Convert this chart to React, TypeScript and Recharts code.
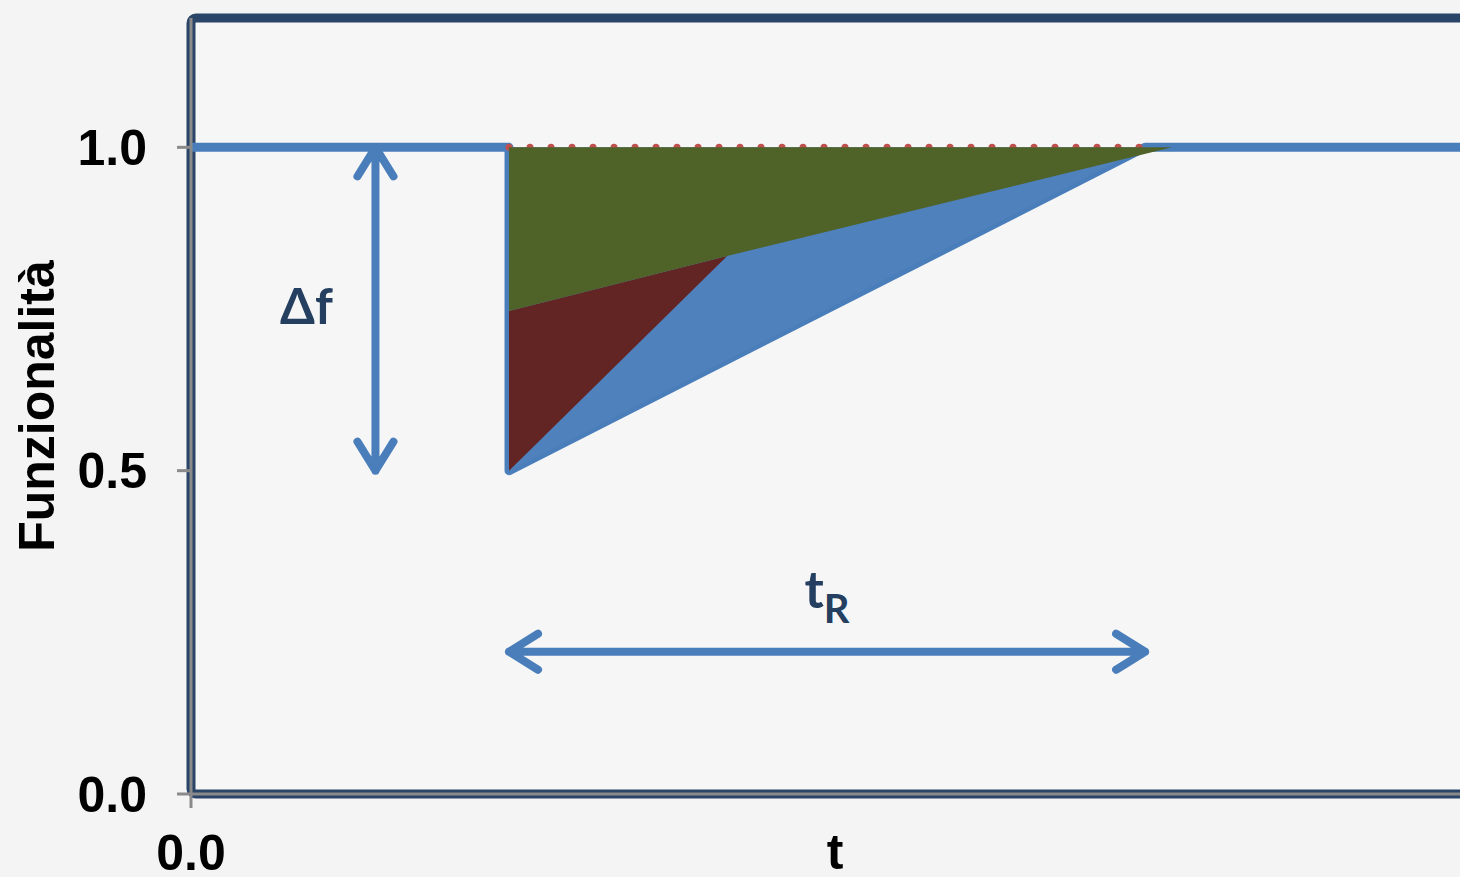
import React from "react";
import {
  Area,
  ComposedChart,
  Label,
  Line,
  ReferenceArea,
  ReferenceLine,
  XAxis,
  YAxis,
} from "recharts";

/** colours (Office 2007 palette) */
const COLORS = {
  line: "#4a7ebb",
  blue: "#4f81bd",
  red: "#632523",
  green: "#4f6228",
  dots: "#c0504d",
  frame: "#2b4568",
  axis: "#8a8a8a",
  note: "#243f60",
  page: "#f4f4f4",
  plot: "#f6f6f6",
} as const;

// time points (x) and values
const T = [0, 1, 1, 1.686, 3.0, 3.085, 4.05];
const BASE = [1, 1, 0.5, null, 1, null, 1];
const BLUE_LOW = [null, null, 0.5, null, 1, null, null];
const BLUE_HIGH = [null, null, 1, null, 1, null, null];
const RED_LOW = [null, null, 0.5, 0.832, null, null, null];
const RED_HIGH = [null, null, 0.747, 0.832, null, null, null];
const GREEN_LOW = [null, null, 0.747, 0.832, null, 1, null];
const GREEN_HIGH = [null, null, 1, 1, null, 1, null];
const TARGET = [null, null, 1, null, 1, null, null];

const Y_TICKS = [0, 0.5, 1];
const X_TICKS = [0];
const X_DOMAIN: [number, number] = [0, 4.05];
const Y_DOMAIN: [number, number] = [0, 1.2];

// annotation arrows
const DF_T = 0.58;
const DF_FROM = 1;
const DF_TO = 0.5;
const TR_Y = 0.22;
const TR_FROM = 1;
const TR_TO = 3;

const rows = T.map((t, i) => ({
  t,
  base: BASE[i],
  blue: BLUE_LOW[i] == null ? null : [BLUE_LOW[i], BLUE_HIGH[i]],
  red: RED_LOW[i] == null ? null : [RED_LOW[i], RED_HIGH[i]],
  green: GREEN_LOW[i] == null ? null : [GREEN_LOW[i], GREEN_HIGH[i]],
  target: TARGET[i],
}));

const TICK_FONT = "'Liberation Sans', Arial, sans-serif";
const NOTE_FONT = "Lato, 'Open Sans', sans-serif";

/** double-headed arrow with its label */
const Arrow = (props: any, kind: "df" | "tr") => {
  const { x1, y1, x2, y2 } = props;
  const dx = x2 - x1;
  const dy = y2 - y1;
  const len = Math.hypot(dx, dy) || 1;
  const ux = dx / len;
  const uy = dy / len;
  const px = -uy;
  const py = ux;
  const back = 29;
  const side = 18;
  const head = (tx: number, ty: number, dir: number) =>
    `M${tx + dir * ux * back + px * side},${ty + dir * uy * back + py * side} L${tx},${ty} L${
      tx + dir * ux * back - px * side
    },${ty + dir * uy * back - py * side}`;
  return (
    <g>
      <path
        d={`M${x1},${y1} L${x2},${y2} ${head(x1, y1, 1)} ${head(x2, y2, -1)}`}
        stroke={COLORS.line}
        strokeWidth={8}
        strokeLinecap="round"
        strokeLinejoin="round"
        fill="none"
      />
      {kind === "df" ? (
        <text
          x={x1 - 69}
          y={(y1 + y2) / 2 + 15}
          textAnchor="middle"
          fontFamily={NOTE_FONT}
          fontWeight="bold"
          fontSize={50}
          fill={COLORS.note}
        >
          Δf
        </text>
      ) : (
        <text
          x={(x1 + x2) / 2}
          y={y1 - 44}
          textAnchor="middle"
          fontFamily={NOTE_FONT}
          fontWeight="bold"
          fontSize={52}
          fill={COLORS.note}
        >
          t
          <tspan dy={15} fontSize={40}>
            R
          </tspan>
        </text>
      )}
    </g>
  );
};

export default function App() {
  return (
    <div
      style={{
        position: "absolute",
        left: 0,
        top: 0,
        width: 1460,
        height: 877,
        overflow: "hidden",
        background: COLORS.page,
      }}
    >
      <ComposedChart
        width={1500}
        height={877}
        data={rows}
        margin={{ top: 18, right: 21, bottom: 0, left: 0 }}
      >
        <ReferenceArea
          x1={X_DOMAIN[0]}
          x2={X_DOMAIN[1]}
          y1={Y_DOMAIN[0]}
          y2={Y_DOMAIN[1]}
          fill={COLORS.plot}
          fillOpacity={1}
          stroke={COLORS.frame}
          strokeWidth={9}
          strokeOpacity={1}
          radius={5}
          zIndex={10}
        />
        <XAxis
          type="number"
          dataKey="t"
          domain={X_DOMAIN}
          ticks={X_TICKS}
          tickFormatter={(v: number) => v.toFixed(1)}
          height={83}
          tickSize={14}
          tickMargin={26}
          stroke={COLORS.axis}
          strokeWidth={3}
          tick={{ fill: "#000", fontSize: 50, fontWeight: "bold", fontFamily: TICK_FONT }}
          allowDataOverflow
        >
          <Label
            value="t"
            position="insideBottom"
            offset={8}
            fill="#000"
            fontSize={50}
            fontWeight="bold"
            fontFamily={TICK_FONT}
          />
        </XAxis>
        <YAxis
          type="number"
          domain={Y_DOMAIN}
          ticks={Y_TICKS}
          tickFormatter={(v: number) => v.toFixed(1)}
          width={191}
          tickSize={14}
          tickMargin={30}
          stroke={COLORS.axis}
          strokeWidth={3}
          tick={{ fill: "#000", fontSize: 50, fontWeight: "bold", fontFamily: TICK_FONT }}
          allowDataOverflow
        >
          <Label
            content={(p: any) => {
              const vb = p.viewBox || {};
              const cx = 54;
              const cy = (vb.y ?? 18) + (vb.height ?? 775) / 2;
              return (
                <text
                  x={cx}
                  y={cy}
                  transform={`rotate(-90, ${cx}, ${cy})`}
                  textAnchor="middle"
                  fill="#000"
                  fontSize={50}
                  fontWeight="bold"
                  fontFamily={TICK_FONT}
                >
                  Funzionalità
                </text>
              );
            }}
          />
        </YAxis>
        <Line
          dataKey="base"
          type="linear"
          stroke={COLORS.line}
          strokeWidth={9}
          strokeLinejoin="round"
          dot={false}
          activeDot={false}
          connectNulls
          isAnimationActive={false}
          zIndex={100}
        />
        <Area
          dataKey="blue"
          type="linear"
          stroke="none"
          fill={COLORS.blue}
          fillOpacity={1}
          dot={false}
          activeDot={false}
          connectNulls
          isAnimationActive={false}
          zIndex={110}
        />
        <Area
          dataKey="red"
          type="linear"
          stroke="none"
          fill={COLORS.red}
          fillOpacity={1}
          dot={false}
          activeDot={false}
          connectNulls
          isAnimationActive={false}
          zIndex={120}
        />
        <Line
          dataKey="target"
          type="linear"
          stroke={COLORS.dots}
          strokeWidth={7}
          strokeDasharray="0 21"
          strokeLinecap="round"
          dot={false}
          activeDot={false}
          connectNulls
          isAnimationActive={false}
          zIndex={130}
        />
        <Area
          dataKey="green"
          type="linear"
          stroke="none"
          fill={COLORS.green}
          fillOpacity={1}
          dot={false}
          activeDot={false}
          connectNulls
          isAnimationActive={false}
          zIndex={140}
        />
        <ReferenceLine
          segment={[
            { x: DF_T, y: DF_FROM },
            { x: DF_T, y: DF_TO },
          ]}
          shape={(p: any) => Arrow(p, "df")}
          zIndex={300}
        />
        <ReferenceLine
          segment={[
            { x: TR_FROM, y: TR_Y },
            { x: TR_TO, y: TR_Y },
          ]}
          shape={(p: any) => Arrow(p, "tr")}
          zIndex={300}
        />
      </ComposedChart>
    </div>
  );
}
